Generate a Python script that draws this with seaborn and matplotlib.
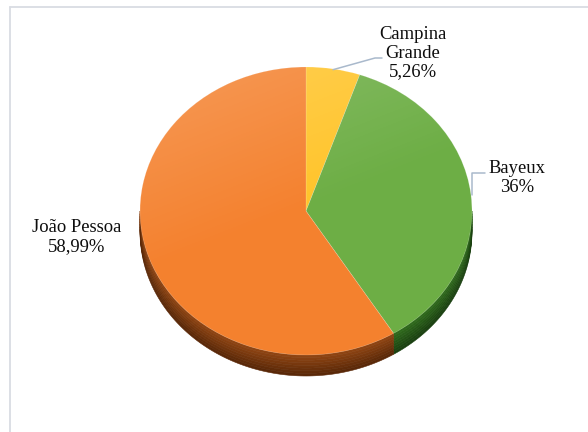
import numpy as np
import matplotlib
matplotlib.use("Agg")
import matplotlib.pyplot as plt
import seaborn as sns
from matplotlib.patches import Polygon, Circle
from matplotlib.lines import Line2D
from matplotlib.colors import to_rgb

# Share of each city
cities = ["Campina Grande", "Bayeux", "João Pessoa"]
shares = [5.26, 36.0, 58.99]
share_labels = ["Campina\nGrande\n5,26%", "Bayeux\n36%", "João Pessoa\n58,99%"]

sns.set_theme(style="white")
plt.rcParams["font.family"] = ["Liberation Serif", "DejaVu Serif"]

top_colors = ["#FFC42A", "#6DAE45", "#F4812E"]
side_colors = [("#9A6A10", "#6A4808"), ("#2F6A1C", "#1A4010"), ("#8E4412", "#5A2808")]

W, H, DPI = 588, 432, 100
fig = plt.figure(figsize=(W / DPI, H / DPI), dpi=DPI)
ax = fig.add_axes([0, 0, 1, 1])

# pie centre / radii in pixels (x from left, y from top), side depth
cx, cy, rx, ry, depth_px = 306, 211, 166, 144, 21
depth = depth_px / ry

wedges, _ = ax.pie(shares, colors=top_colors, startangle=90, counterclock=False,
                   wedgeprops=dict(linewidth=0.5, edgecolor=(1, 1, 1, 0.2)))
for w in wedges:
    w.set_zorder(3)

ax.set_aspect("auto")
ax.set_xlim(-cx / rx, (W - cx) / rx)
ax.set_ylim(-(H - cy) / ry, cy / ry)
ax.axis("off")

# extruded side of the disc (visible lower half only), shaded in strips
n_strips = 8
for w, (c_top, c_bot) in zip(wedges, side_colors):
    lo, hi = w.theta1, w.theta2
    while hi > 180:
        lo -= 360; hi -= 360
    while hi <= -180:
        lo += 360; hi += 360
    a0, a1 = max(lo, -180), min(hi, 0)
    if a1 <= a0:
        lo2, hi2 = lo - 360, hi - 360
        a0, a1 = max(lo2, -180), min(hi2, 0)
        if a1 <= a0:
            continue
    t = np.radians(np.linspace(a0, a1, 120))
    ct, cb = np.array(to_rgb(c_top)), np.array(to_rgb(c_bot))
    for k in range(n_strips):
        f = k / (n_strips - 1)
        col = ct * (1 - f) + cb * f
        o1 = depth * k / n_strips
        o2 = depth * (k + 1) / n_strips
        xs = np.concatenate([np.cos(t), np.cos(t[::-1])])
        ys = np.concatenate([np.sin(t) - o1, np.sin(t[::-1]) - o2])
        ax.add_patch(Polygon(np.column_stack([xs, ys]), closed=True,
                             facecolor=col, edgecolor=col, linewidth=0.4, zorder=2))

# soft light from the upper left on the top face
gy, gx = np.mgrid[1:-1:200j, -1:1:200j]
light = np.clip(0.55 * gy - 0.25 * gx, 0, None)
light = light / light.max() * 0.2
overlay = np.zeros((200, 200, 4))
overlay[..., :3] = 1.0
overlay[..., 3] = light
img = ax.imshow(overlay, extent=(-1, 1, -1, 1), zorder=4, aspect="auto",
                interpolation="bilinear")
img.set_clip_path(Circle((0, 0), 1, transform=ax.transData))

# labels
text_pos = [(413, 53), (517, 178), (77, 237)]
for lab, (px, py) in zip(share_labels, text_pos):
    ax.text((px - cx) / rx, (cy - py) / ry, lab, ha="center", va="center",
            fontsize=13.4, color="#0D0D0D", linespacing=1.12, zorder=6)

# leader lines from wedge mid angles
leader_col = "#A9B9CC"
mid = [np.radians((w.theta1 + w.theta2) / 2) for w in wedges]
# Campina Grande
a = mid[0]
p0 = (np.cos(a) * 0.995, np.sin(a) * 0.995)
ax.add_line(Line2D([p0[0], (375 - cx) / rx, (382 - cx) / rx],
                   [p0[1], (cy - 58) / ry, (cy - 58) / ry],
                   color=leader_col, lw=1.1, zorder=6))
# Bayeux
a = mid[1]
p0 = (np.cos(a) * 1.005, np.sin(a) * 1.005)
ax.add_line(Line2D([p0[0], p0[0], (485 - cx) / rx],
                   [p0[1], (cy - 173) / ry, (cy - 173) / ry],
                   color=leader_col, lw=1.1, zorder=6))

# chart area border
frame_col = "#D9DCE3"
fig.add_artist(Line2D([10 / W, 10 / W], [0, 1 - 7 / H], color=frame_col, lw=1.3,
                      transform=fig.transFigure))
fig.add_artist(Line2D([10 / W, 1], [1 - 7 / H, 1 - 7 / H], color=frame_col, lw=1.3,
                      transform=fig.transFigure))

fig.savefig("out.png", dpi=DPI, facecolor="white")
